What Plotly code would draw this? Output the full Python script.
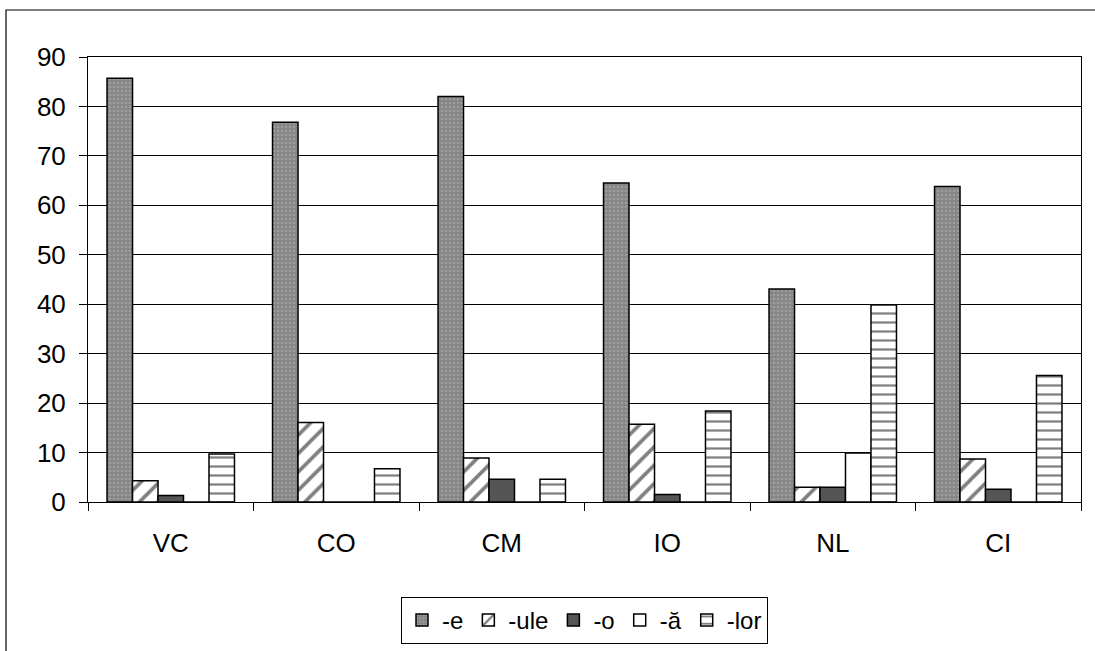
import plotly.graph_objects as go

categories = ["VC", "CO", "CM", "IO", "NL", "CI"]
series_names = ["-e", "-ule", "-o", "-ă", "-lor"]
vals_e = [85.7, 76.8, 82.0, 64.5, 43.1, 63.8]
vals_ule = [4.3, 16.1, 8.9, 15.7, 3.0, 8.7]
vals_o = [1.3, 0.0, 4.6, 1.5, 3.0, 2.6]
vals_a = [0.0, 0.0, 0.0, 0.0, 9.9, 0.0]
vals_lor = [9.7, 6.7, 4.6, 18.4, 39.9, 25.6]
y_ticks = [0, 10, 20, 30, 40, 50, 60, 70, 80, 90]

W, H = 1095, 651
ML, MR, MT, MB = 88, 14, 57, 149
pw, ph = W - ML - MR, H - MT - MB

def px2x(px):
    return (px - ML) / pw

def py2y(py):
    return (H - MB - py) / ph

FONT = "Liberation Sans, Arial, sans-serif"
line = dict(color="black", width=1.5)

styles = [
    dict(color="#858585", pattern=dict(shape=".", fgcolor="#b5b5b5", bgcolor="#858585", size=4, solidity=0.35)),
    dict(color="white", pattern=dict(shape="/", fgcolor="black", bgcolor="white", size=13, solidity=0.28)),
    dict(color="#555555"),
    dict(color="white"),
    dict(color="white", pattern=dict(shape="-", fgcolor="black", bgcolor="white", size=9, solidity=0.25)),
]
all_vals = [vals_e, vals_ule, vals_o, vals_a, vals_lor]

fig = go.Figure()
for name, vals, st in zip(series_names, all_vals, styles):
    marker = dict(line=line, **st)
    fig.add_trace(go.Bar(x=categories, y=vals, name=name, marker=marker))

fig.update_layout(
    width=W, height=H,
    margin=dict(l=ML, r=MR, t=MT, b=MB, autoexpand=False),
    paper_bgcolor="white", plot_bgcolor="white",
    barmode="group", bargap=0.23, bargroupgap=0,
    font=dict(family=FONT, size=26, color="black"),
    showlegend=True,
    legend=dict(
        orientation="h", x=0.5, xanchor="center", y=py2y(597), yanchor="top",
        bordercolor="black", borderwidth=1, font=dict(size=24),
        tracegroupgap=0,
    ),
    xaxis=dict(
        showline=True, linecolor="black", linewidth=1, mirror=True,
        ticks="outside", tickson="boundaries", ticklen=8, tickcolor="black",
        showgrid=False, tickfont=dict(size=26), ticklabelstandoff=18,
    ),
    yaxis=dict(
        range=[0, 90], tickvals=y_ticks, showline=True, linecolor="black", linewidth=1,
        mirror=True, ticks="outside", ticklen=8, tickcolor="black",
        showgrid=True, gridcolor="black", gridwidth=1, zeroline=False,
        tickfont=dict(size=26), ticklabelstandoff=8,
    ),
    shapes=[dict(
        type="rect", xref="paper", yref="paper",
        x0=px2x(6), x1=px2x(1110), y0=py2y(670), y1=py2y(10),
        line=dict(color="black", width=1.2), fillcolor="rgba(0,0,0,0)", layer="below",
    )],
)

fig.write_html("out.html", config={"displayModeBar": False})
with open("out.html", "r", encoding="utf-8") as f:
    html = f.read()
html = html.replace("<head>", "<head><style>html,body{margin:0;padding:0;overflow:hidden;}</style>", 1)
with open("out.html", "w", encoding="utf-8") as f:
    f.write(html)
